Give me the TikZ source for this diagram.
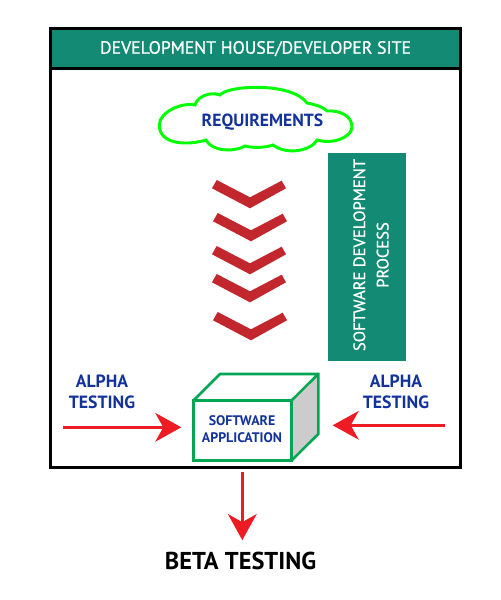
\documentclass[tikz,border=0pt]{standalone}
\usepackage{fontspec}
\setmainfont{PT Sans}
\newfontfamily\semibf[FakeBold=0.9]{PT Sans}
\usetikzlibrary{arrows.meta}
\definecolor{teal1}{HTML}{128A74}
\definecolor{blue1}{HTML}{14339A}
\definecolor{red1}{HTML}{ED1C24}
\definecolor{chev}{HTML}{C1272D}
\definecolor{green1}{HTML}{00A651}
\definecolor{lime1}{HTML}{00FF00}
\definecolor{gray1}{HTML}{CCCCCC}
\tikzset{
  every node/.style={outer sep=0pt},
  bluetxt/.style={text=blue1,font=\fontsize{13.3}{15.7}\selectfont\bfseries,align=center,inner sep=0pt},
  chevron/.style={fill=chev,draw=none},
  redarrow/.style={draw=red1,line width=2.2pt,-{Stealth[length=19.5pt,width=21.5pt,inset=6pt,fill=red1]}},
}
\newcommand{\chevat}[2]{\fill[chevron] (#1+216.7,#2+180) -- (#1+250,#2+197.3) -- (#1+281.7,#2+180.7) -- (#1+286,#2+188.3) -- (#1+250,#2+208.3) -- (#1+212,#2+188.3) -- cycle;}
\begin{document}
\begin{tikzpicture}[x=0.75pt,y=-0.75pt]
\useasboundingbox (0,0) rectangle (500,600);
\fill[white] (0,0) rectangle (500,600);
% outer frame and header
\node[draw=black,line width=2.25pt,minimum width=307.5pt,minimum height=329.4pt,inner sep=0pt,anchor=north west] (frame) at (50.5,28.3) {};
\node[draw=black,fill=teal1,line width=2.25pt,minimum width=307.5pt,minimum height=30.5pt,inner sep=0pt,anchor=north west,text=white,font=\fontsize{13.3}{16}\selectfont\semibf] (header) at (50.5,28.3) {DEVELOPMENT HOUSE/DEVELOPER SITE};
% cloud
\draw[draw=lime1,fill=white,line width=2.2pt]
  (159.3,125)
  .. controls (159.3,112) and (182,102) .. (195,105)
  .. controls (197,97) and (210,91) .. (220,95)
  .. controls (228,85) and (292,82) .. (307,103)
  .. controls (312,104) and (322,106) .. (327,111)
  .. controls (340,110) and (352,116) .. (352,127)
  .. controls (352,136) and (335,145) .. (317,140)
  .. controls (312,150) and (288,156) .. (273,145)
  .. controls (265,148) and (252,148) .. (245,146)
  .. controls (235,152) and (212,152) .. (206,140)
  .. controls (190,145) and (159.3,146) .. (159.3,125) -- cycle;
\node[bluetxt,font=\fontsize{13.2}{15}\selectfont\bfseries] (req) at (262.5,122.5) {REQUIREMENTS};
% process bar
\node[fill=teal1,minimum width=58.2pt,minimum height=156.5pt,inner sep=0pt,anchor=north west] (proc) at (328,152.7) {};
\node[rotate=90,text=white,align=center,inner sep=0pt,font=\fontsize{12.4}{17.5}\selectfont\semibf] (proctxt) at (371,255) {SOFTWARE DEVELOPMENT\\PROCESS};
% chevrons
\chevat{0}{0}
\chevat{1}{33}
\chevat{0}{66}
\chevat{0}{94}
\chevat{1}{132}
% cube
\fill[gray1] (291.3,400.7) -- (318.3,374) -- (318.3,434) -- (291.3,460.7) -- cycle;
\draw[green1,line width=1.9pt,line join=miter] (193.3,400.7) -- (220,374) -- (318.3,374) -- (318.3,434) -- (291.3,460.7) (318.3,374) -- (291.3,400.7);
\node[draw=green1,line width=1.9pt,fill=white,minimum width=73.5pt,minimum height=45pt,inner sep=0pt,anchor=north west] (app) at (193.3,400.7) {};
\node[text=blue1,align=center,inner sep=0pt,font=\fontsize{10.4}{12.6}\selectfont\bfseries] (apptxt) at (242,429) {SOFTWARE\\APPLICATION};
\coordinate (side) at (318.3,425.3);
% labels
\node[bluetxt] (alphaL) at (102,392) {ALPHA\\TESTING};
\node[bluetxt] (alphaR) at (396,392) {ALPHA\\TESTING};
\node[inner sep=0pt,font=\fontsize{18.3}{21}\selectfont\bfseries] (beta) at (240.5,561) {BETA TESTING};
% arrows
\coordinate (tailL) at (63,427.3);
\coordinate (tailR) at (445,425.3);
\draw[redarrow,shorten >=9pt] (tailL) -- (tailL -| app.west);
\draw[redarrow,shorten >=10.8pt] (tailR) -- (side);
\path (app.south |- frame.south) ++(0,4) coordinate (downstart);
\draw[redarrow,shorten >=9pt] (downstart) -- (downstart |- beta.north);
\end{tikzpicture}
\end{document}
